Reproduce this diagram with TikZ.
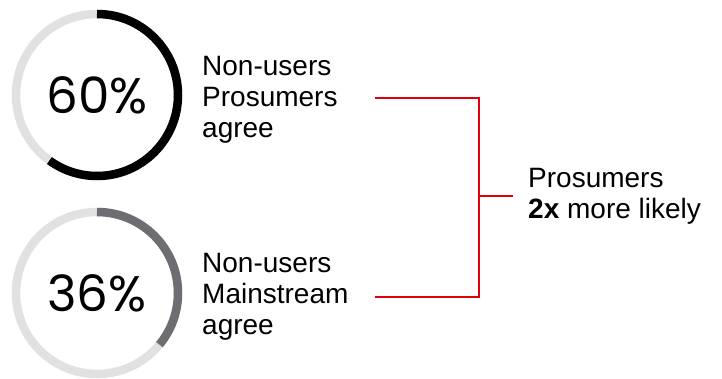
\documentclass[tikz,border=0pt]{standalone}
\usepackage{fontspec}
\setmainfont{Liberation Sans}
\newfontfamily\pctfont{Poppins}
\usepackage{tikz}
\usetikzlibrary{positioning}
\definecolor{trackgray}{HTML}{E1E1E3}
\definecolor{sharegray}{HTML}{6D6E71}
\definecolor{bracketred}{HTML}{E2000F}

\begin{document}
\begin{tikzpicture}[x=1pt, y=-1pt,
		pct/.style={font=\pctfont\fontsize{50}{50}\selectfont, inner sep=0pt},
		label/.style={font=\fontsize{28}{31}\selectfont, align=left, anchor=north west, inner sep=0pt},
		track/.style={draw=trackgray, line width=8.5pt},
		bracket/.style={draw=bracketred, line width=2.2pt}]
	\useasboundingbox (0,0) rectangle (722,379);
	% rings with the share arc on top
	\node[pct] (p1) at (97,95) {60\%};
	\node[pct] (p2) at (97,293) {36\%};
	\draw[track] (p1.center) circle[radius=81pt];
	\draw[track] (p2.center) circle[radius=81pt];
	\draw[line width=8.5pt, black] ([yshift=81pt]p1.center) arc[start angle=90, end angle=-126, radius=81pt];
	\draw[line width=8.5pt, sharegray] ([yshift=81pt]p2.center) arc[start angle=90, end angle=-39.6, radius=81pt];
	% labels
	\node[label] (lab1) at (202,56) {Non-users\\Prosumers\\agree};
	\node[label] (lab2) at (202,253) {Non-users\\Mainstream\\agree};
	\node[label, anchor=west, inner xsep=15pt] (res) at (513,196) {Prosumers\\\textbf{2x} more likely};
	% bracket
	\coordinate (b1) at (375,98);
	\coordinate (b2) at (375,297);
	\coordinate (mid) at (479,196);
	\draw[bracket] (b1) -| (mid) |- (b2);
	\draw[bracket] (mid) -- (mid -| res.west);
\end{tikzpicture}
\end{document}
